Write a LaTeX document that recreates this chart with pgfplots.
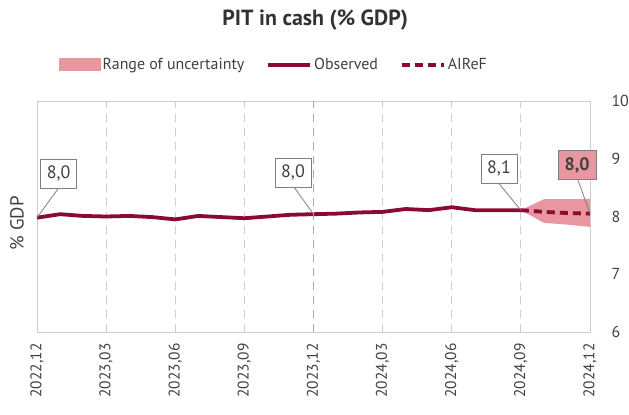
\documentclass[border=0pt]{standalone}
\usepackage{fontspec}
\setmainfont{PT Sans}
\usepackage{pgfplots}
\pgfplotsset{compat=1.18}
\definecolor{wine}{RGB}{139,10,48}
\definecolor{band}{RGB}{232,150,160}
\definecolor{txt}{RGB}{64,64,64}
\definecolor{gridc}{RGB}{205,205,205}
\definecolor{gridd}{RGB}{170,170,170}
\begin{document}
\begin{tikzpicture}[x=1bp,y=1bp]
\path[use as bounding box] (-37,-82) rectangle (592,332);
\begin{axis}[at={(0,0)},anchor=south west, scale only axis, width=553bp, height=231bp,
  xmin=0,xmax=24,ymin=6,ymax=10, clip=false,
  axis line style={draw=gridc, line width=0.8bp},
  xtick={0,3,...,24},
  xticklabels={{2022,12},{2023,03},{2023,06},{2023,09},{2023,12},{2024,03},{2024,06},{2024,09},{2024,12}},
  xticklabel style={rotate=90, anchor=east, font=\fontsize{15.5}{17}\selectfont, text=txt},
  xticklabel shift=8bp,
  ytick={6,7,8,9,10}, yticklabels={6,7,8,9,10},
  yticklabel pos=right,
  yticklabel style={font=\fontsize{16}{18}\selectfont, text=txt, anchor=west},
  yticklabel shift=18bp,
  major tick length=0pt,
  xmajorgrids, grid style={gridc, line width=0.9bp, dash pattern=on 8bp off 6bp},
  legend style={at={(0.428,1.156)}, anchor=center, draw=none, fill=none, legend columns=3,
    font=\fontsize{16}{18}\selectfont, text=txt,
    /tikz/every even column/.append style={column sep=20bp}},
  legend cell align=left,
]
\addplot[fill=band, draw=none, legend image code/.code={\fill[band] (0bp,-6.5bp) rectangle (42bp,6.5bp);}]
  coordinates {(21,8.11) (22,8.30) (23,8.30) (24,8.30) (24,7.82) (23,7.86) (22,7.89) (21,8.11)} -- cycle;
\addlegendentry{Range of uncertainty}
\addplot[wine, line width=3.8bp, line join=round, legend image code/.code={\draw[wine,line width=3.8bp] (0bp,0bp) -- (42bp,0bp);}]
  coordinates {(0,7.98) (1,8.04) (2,8.01) (3,8.00) (4,8.01) (5,7.99) (6,7.95) (7,8.01) (8,7.99) (9,7.97) (10,8.00) (11,8.03) (12,8.04) (13,8.05) (14,8.07) (15,8.08) (16,8.13) (17,8.11) (18,8.16) (19,8.11) (20,8.11) (21,8.11)};
\addlegendentry{Observed}
\addplot[wine, line width=3.8bp, dash pattern=on 8bp off 5bp, legend image code/.code={\draw[wine,line width=3.8bp,dash pattern=on 8bp off 5bp] (0bp,0bp) -- (42bp,0bp);}]
  coordinates {(21,8.11) (22,8.08) (23,8.06) (24,8.05)};
\addlegendentry{AIReF}
\draw[gridd, line width=0.9bp, dash pattern=on 8bp off 6bp] (axis cs:12,6) -- (axis cs:12,10);
% annotations
\tikzset{lab/.style={draw=gray, line width=0.8bp, fill=white, text=txt, font=\fontsize{18}{20}\selectfont, minimum width=36bp, minimum height=29bp, inner sep=2bp}}
\draw[gray, line width=0.8bp] (axis cs:0.93,8.49) -- (axis cs:0,7.98);
\node[lab] at (axis cs:0.94,8.745) {8,0};
\draw[gray, line width=0.8bp] (axis cs:11.17,8.50) -- (axis cs:12,8.04);
\node[lab] at (axis cs:11.11,8.76) {8,0};
\draw[gray, line width=0.8bp] (axis cs:20.05,8.57) -- (axis cs:21,8.11);
\node[lab] at (axis cs:20.05,8.83) {8,1};
\draw[gray, line width=0.8bp] (axis cs:23.47,8.64) -- (axis cs:24,8.05);
\node[lab, fill=band, minimum width=38bp, font=\fontsize{18}{20}\selectfont\bfseries] at (axis cs:23.44,8.89) {8,0};
\node[rotate=90, text=txt, font=\fontsize{19}{21}\selectfont] at (axis description cs:-0.036,0.47) {\% GDP};
\node[text={rgb,255:red,50;green,50;blue,50}, font=\fontsize{22}{25}\selectfont\bfseries] at (axis description cs:0.503,1.35) {PIT in cash (\% GDP)};
\end{axis}
\end{tikzpicture}
\end{document}
